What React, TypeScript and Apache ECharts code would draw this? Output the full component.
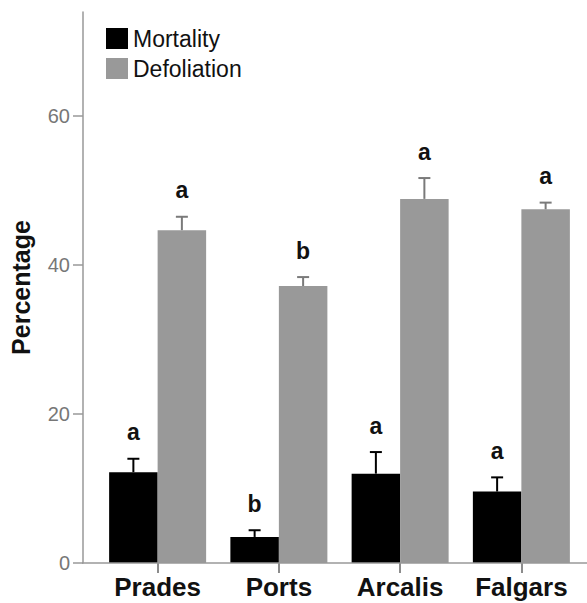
import React, { useEffect, useRef } from "react";
import * as echarts from "echarts";

const categories = ["Prades", "Ports", "Arcalis", "Falgars"];
const mortality = [12.2, 3.5, 12.0, 9.6];
const mortalitySE = [1.8, 0.9, 2.9, 1.9];
const mortalityLetters = ["a", "b", "a", "a"];
const defoliation = [44.7, 37.2, 48.9, 47.5];
const defoliationSE = [1.8, 1.2, 2.8, 0.9];
const defoliationLetters = ["a", "b", "a", "a"];
const yTicks = [0, 20, 40, 60];

const FONT = "'Liberation Sans', Arial, Helvetica, sans-serif";
const GRID = { left: 96, right: 5, top: 12, bottom: 40 };
const W = 587;
const H = 603;
const AXIS_COLOR = "#999999";

function errorSeries(name: string, vals: number[], se: number[], letters: string[], side: number, color: string) {
  return {
    type: "custom",
    name: name + " SE",
    z: 5,
    silent: true,
    data: vals.map((v, i) => [i, v, v + se[i], letters[i]]),
    renderItem: (params: any, api: any) => {
      const idx = api.value(0);
      const top = api.coord([idx, api.value(2)]);
      const mid = api.coord([idx, api.value(1)]);
      const band = api.size([1, 0])[0];
      const x = top[0] + side * band * 0.2;
      const cap = 6;
      return {
        type: "group",
        children: [
          {
            type: "line",
            shape: { x1: x, y1: mid[1], x2: x, y2: top[1] },
            style: { stroke: color, lineWidth: 2 },
          },
          {
            type: "line",
            shape: { x1: x - cap, y1: top[1], x2: x + cap, y2: top[1] },
            style: { stroke: color, lineWidth: 2 },
          },
          {
            type: "text",
            x: x,
            y: top[1] - 15,
            style: {
              text: String(api.value(3)),
              fontFamily: FONT,
              fontWeight: "bold",
              fontSize: 23,
              fill: "#111111",
              align: "center",
              verticalAlign: "bottom",
            },
          },
        ],
      };
    },
  };
}

export default function App() {
  const ref = useRef<HTMLDivElement>(null);
  useEffect(() => {
    if (!ref.current) return;
    const chart = echarts.init(ref.current, null, { renderer: "svg" });
    const baseY = H - GRID.bottom;
    chart.setOption({
      animation: false,
      backgroundColor: "#ffffff",
      textStyle: { fontFamily: FONT },
      grid: { left: GRID.left, right: GRID.right, top: GRID.top, bottom: GRID.bottom, containLabel: false },
      legend: {
        orient: "vertical",
        left: 106,
        top: 27,
        icon: "rect",
        itemWidth: 22,
        itemHeight: 21,
        itemGap: 7,
        padding: 0,
        selectedMode: false,
        data: ["Mortality", "Defoliation"],
        textStyle: { fontFamily: FONT, fontSize: 23, color: "#111111" },
      },
      xAxis: {
        type: "category",
        data: categories,
        axisLine: { show: false },
        axisTick: { show: true, alignWithLabel: true, length: 10, lineStyle: { color: "#666666", width: 1.5 } },
        axisLabel: { fontFamily: FONT, fontSize: 26, fontWeight: "bold", color: "#111111", margin: 11 },
        splitLine: { show: false },
      },
      yAxis: {
        type: "value",
        min: 0,
        max: 74,
        interval: 20,
        offset: 14,
        name: "Percentage",
        nameLocation: "middle",
        nameGap: 50,
        nameTextStyle: { fontFamily: FONT, fontSize: 25, fontWeight: "bold", color: "#111111" },
        axisLine: { show: true, lineStyle: { color: AXIS_COLOR, width: 1.5 } },
        axisTick: { show: true, length: 10, customValues: yTicks, lineStyle: { color: AXIS_COLOR, width: 1.5 } },
        axisLabel: { fontFamily: FONT, fontSize: 20, color: "#777777", margin: 13, customValues: yTicks },
        splitLine: { show: false },
      },
      graphic: [
        {
          type: "line",
          z: 10,
          shape: { x1: GRID.left - 14, y1: baseY, x2: W, y2: baseY },
          style: { stroke: AXIS_COLOR, lineWidth: 1.5 },
        },
      ],
      series: [
        {
          name: "Mortality",
          type: "bar",
          data: mortality,
          barGap: "0%",
          barCategoryGap: "20%",
          itemStyle: { color: "#000000" },
          z: 2,
        },
        {
          name: "Defoliation",
          type: "bar",
          data: defoliation,
          barGap: "0%",
          barCategoryGap: "20%",
          itemStyle: { color: "#999999" },
          z: 2,
        },
        errorSeries("Mortality", mortality, mortalitySE, mortalityLetters, -1, "#000000"),
        errorSeries("Defoliation", defoliation, defoliationSE, defoliationLetters, 1, "#7a7a7a"),
      ],
    });
    return () => chart.dispose();
  }, []);
  return (
    <div
      ref={ref}
      style={{ position: "fixed", left: 0, top: 0, width: W, height: H, background: "#ffffff" }}
    />
  );
}
